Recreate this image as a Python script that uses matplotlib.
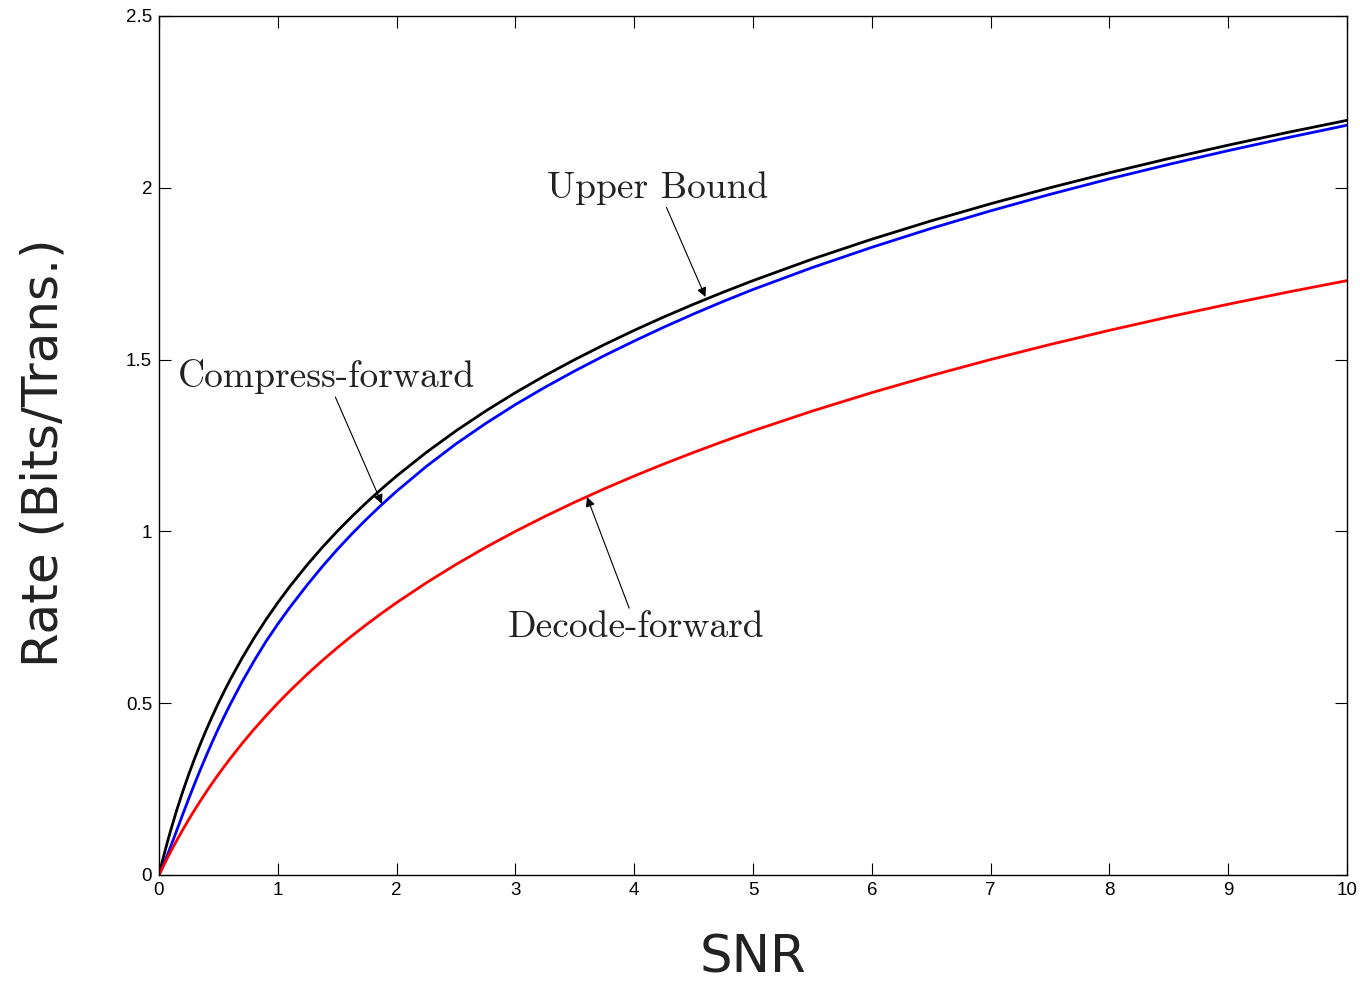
import numpy as np
import matplotlib
matplotlib.use("Agg")
import matplotlib.pyplot as plt

# values (SNR vs rate in bits/transmission)
snr = [0, 0.025, 0.05, 0.075, 0.1, 0.15, 0.2, 0.25, 0.3, 0.35, 0.4, 0.45, 0.5,
       0.55, 0.6, 0.7, 0.8, 0.9, 1, 1.1, 1.25, 1.375, 1.5, 1.625, 1.75, 1.875,
       2, 2.25, 2.5, 2.75, 3, 3.25, 3.5, 3.75, 4, 4.25, 4.5, 4.75, 5, 5.5, 6,
       6.5, 7, 7.5, 8, 8.5, 9, 9.5, 10]
upper_bound = [0, 0.0352, 0.0688, 0.1008, 0.1315, 0.1893, 0.2427, 0.2925,
               0.3390, 0.3828, 0.4240, 0.4630, 0.5, 0.5352, 0.5688, 0.6315,
               0.6893, 0.7427, 0.7925, 0.8390, 0.9037, 0.9535, 1.0, 1.0437,
               1.0850, 1.1240, 1.1610, 1.2297, 1.2925, 1.3502, 1.4037, 1.4534,
               1.5, 1.5437, 1.5850, 1.6240, 1.6610, 1.6962, 1.7297, 1.7925,
               1.8502, 1.9037, 1.9534, 2.0, 2.0437, 2.0850, 2.1240, 2.1610,
               2.1962]
compress_fwd = [0, 0.0191, 0.0399, 0.0617, 0.0842, 0.1302, 0.1764, 0.2216,
                0.2656, 0.3081, 0.3489, 0.3883, 0.4260, 0.4621, 0.4967, 0.5623,
                0.6228, 0.6792, 0.7302, 0.7780, 0.8451, 0.8977, 0.9469, 0.9931,
                1.0366, 1.0777, 1.1167, 1.1889, 1.2546, 1.3140, 1.3690, 1.4195,
                1.4669, 1.5117, 1.5539, 1.5943, 1.6327, 1.6692, 1.7039, 1.7678,
                1.8266, 1.8817, 1.9328, 1.9808, 2.0258, 2.0680, 2.1080, 2.1458,
                2.1819]
decode_fwd = [0, 0.0178, 0.0352, 0.0522, 0.0688, 0.1008, 0.1315, 0.1610,
              0.1893, 0.2165, 0.2427, 0.2680, 0.2925, 0.3161, 0.3390, 0.3828,
              0.4240, 0.4630, 0.5, 0.5352, 0.5850, 0.6240, 0.6610, 0.6962,
              0.7297, 0.7618, 0.7925, 0.8502, 0.9037, 0.9535, 1.0, 1.0437,
              1.0850, 1.1240, 1.1610, 1.1962, 1.2297, 1.2618, 1.2925, 1.3502,
              1.4037, 1.4534, 1.5, 1.5437, 1.5850, 1.6240, 1.6610, 1.6962,
              1.7297]

xticks = [0, 1, 2, 3, 4, 5, 6, 7, 8, 9, 10]
yticks = [0, 0.5, 1, 1.5, 2, 2.5]

fig = plt.figure(figsize=(13.6, 9.85), dpi=100)
ax = fig.add_axes([0.1169, 0.1117, 0.8735, 0.8721])

for vals, col in [(upper_bound, 'black'), (compress_fwd, 'blue'),
                  (decode_fwd, 'red')]:
    ax.plot(snr, vals, color=col, lw=2.0, solid_joinstyle='round')

ax.set_xlim(0, 10)
ax.set_ylim(0, 2.5)
ax.set_xticks(xticks)
ax.set_yticks(yticks)
ax.set_xticklabels(['%g' % t for t in xticks])
ax.set_yticklabels(['%g' % t for t in yticks])
ax.tick_params(direction='in', length=8.5, width=0.8, top=True, right=True,
               labelsize=13.5, pad=5)
for lab in ax.get_xticklabels() + ax.get_yticklabels():
    lab.set_family('Liberation Sans')
for sp in ax.spines.values():
    sp.set_linewidth(1.0)

ax.set_xlabel('SNR', fontsize=37, family='DejaVu Sans', color='#222222')
ax.set_ylabel('Rate (Bits/Trans.)', fontsize=36, family='DejaVu Sans',
              color='#222222')
ax.xaxis.set_label_coords(0.5, -0.068)
ax.yaxis.set_label_coords(-0.077, 0.492)

arrow = dict(arrowstyle='-|>', color='black', lw=0.8, mutation_scale=14,
             shrinkA=0, shrinkB=0)
ax.annotate('Upper Bound', xy=(4.60, 1.682), xytext=(4.20, 2.0),
            fontsize=27, family='cmr10', ha='center', va='center',
            color='#222222', arrowprops=arrow)
ax.annotate('Compress-forward', xy=(1.877, 1.080), xytext=(1.41, 1.45),
            fontsize=27, family='cmr10', ha='center', va='center',
            color='#222222', arrowprops=arrow)
ax.annotate('Decode-forward', xy=(3.603, 1.100), xytext=(4.02, 0.72),
            fontsize=27, family='cmr10', ha='center', va='center',
            color='#222222', arrowprops=arrow)

fig.savefig('out.png', dpi=100)
